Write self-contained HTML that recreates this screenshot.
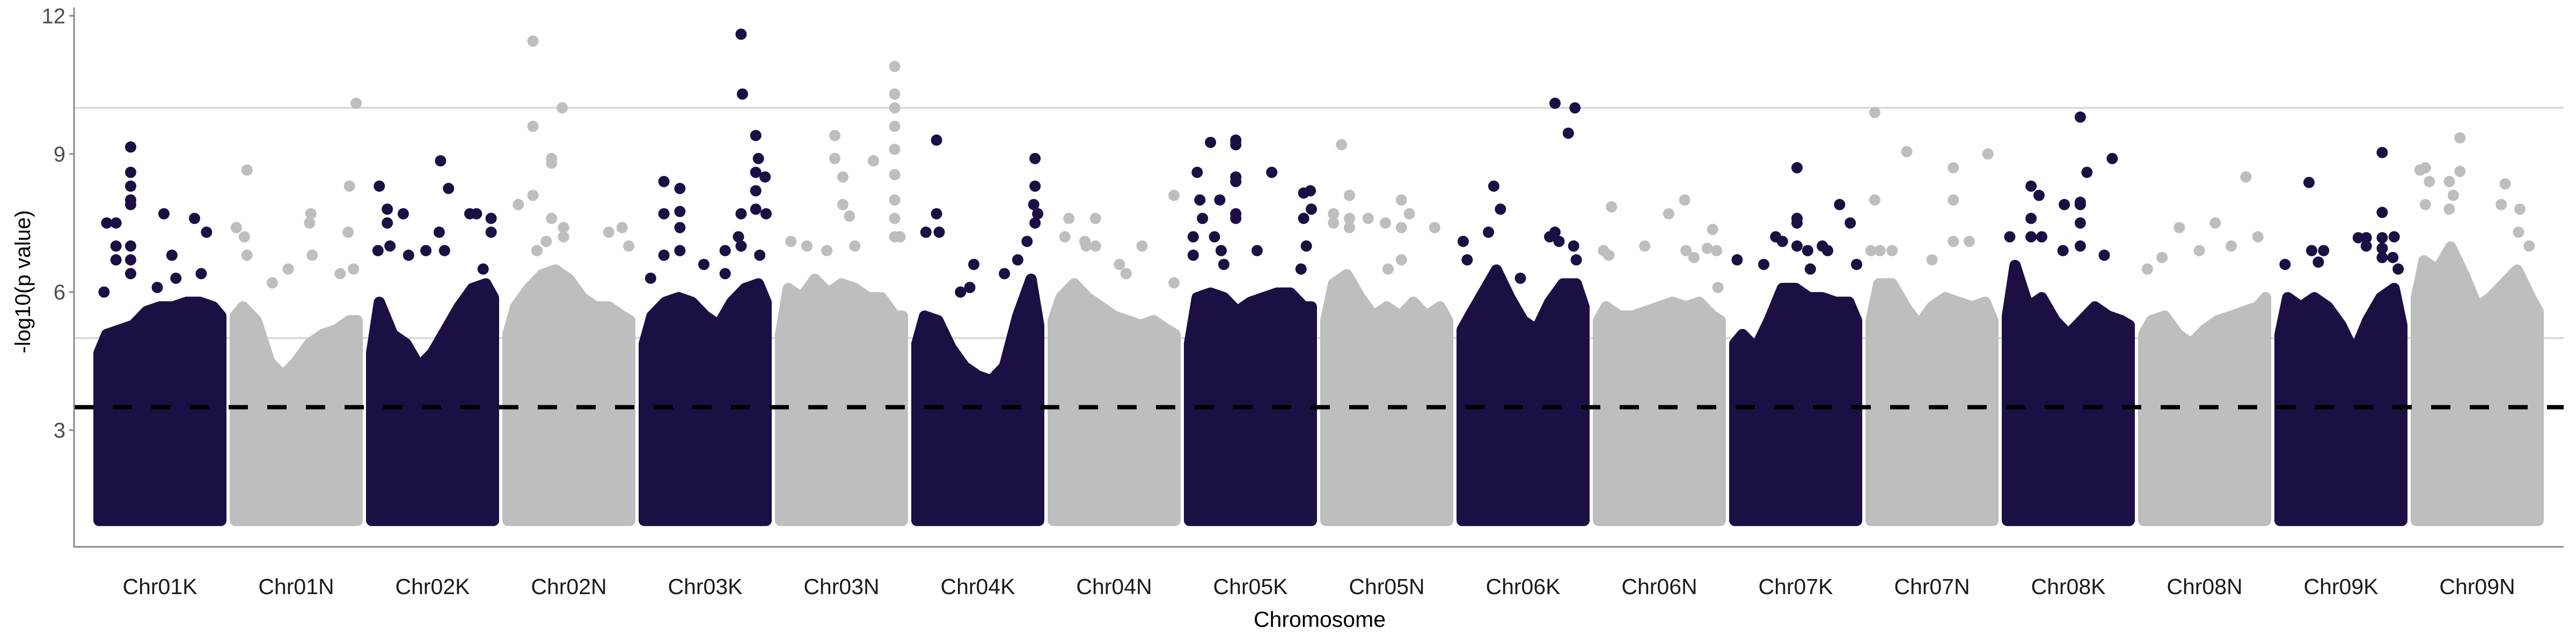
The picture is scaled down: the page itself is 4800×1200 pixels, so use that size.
<!DOCTYPE html>
<html><head><meta charset="utf-8"><style>
html,body{margin:0;padding:0;background:#fff;}
svg{display:block;font-family:"Liberation Sans",Arial,sans-serif;}
</style></head><body>
<svg id="chart" width="4800" height="1200" viewBox="0 0 4800 1200"></svg>
<script>
const chromosomes = ["Chr01K","Chr01N","Chr02K","Chr02N","Chr03K","Chr03N","Chr04K","Chr04N","Chr05K","Chr05N","Chr06K","Chr06N","Chr07K","Chr07N","Chr08K","Chr08N","Chr09K","Chr09N"];
const yTicks = [3,6,9,12];
const yTickLabels = ["3","6","9","12"];
const threshold = 3.5;
const refLines = [5,10];
const bodyBottom = 1.04;
// dense body upper envelope sampled at 11 evenly spaced positions in each chromosome
const bodyTops = [
 [4.8,5.2,5.3,5.4,5.7,5.8,5.8,5.9,5.9,5.8,5.6],
 [5.6,5.8,5.5,4.6,4.3,4.6,5.0,5.2,5.3,5.5,5.5],
 [4.8,5.9,5.2,5.0,4.5,4.8,5.3,5.8,6.2,6.3,6.0],
 [5.2,5.8,6.2,6.5,6.6,6.4,6.0,5.8,5.8,5.6,5.5],
 [5.0,5.6,5.9,6.0,5.9,5.6,5.4,5.9,6.2,6.3,5.9],
 [5.2,6.2,6.0,6.4,6.1,6.3,6.2,6.0,6.0,5.6,5.6],
 [5.0,5.6,5.5,4.9,4.5,4.3,4.2,4.5,5.6,6.4,5.4],
 [5.5,6.0,6.3,6.0,5.8,5.6,5.5,5.4,5.5,5.3,5.2],
 [5.0,6.0,6.1,6.0,5.7,5.9,6.0,6.1,6.1,5.8,5.8],
 [5.5,6.3,6.5,6.0,5.6,5.8,5.6,5.9,5.6,5.8,5.5],
 [5.3,5.6,6.1,6.6,6.0,5.5,5.3,5.9,6.3,6.3,5.8],
 [5.5,5.8,5.6,5.6,5.7,5.8,5.9,5.8,5.9,5.6,5.5],
 [5.0,5.2,4.9,5.5,6.2,6.2,6.0,6.0,5.9,5.9,5.5],
 [5.5,6.3,6.3,5.8,5.4,5.8,6.0,5.9,5.8,5.9,5.5],
 [5.6,6.7,5.8,6.0,5.5,5.2,5.5,5.8,5.6,5.5,5.4],
 [5.2,5.5,5.6,5.2,5.0,5.3,5.5,5.6,5.7,5.8,6.0],
 [5.2,6.0,5.8,6.0,5.8,5.4,4.8,5.5,6.0,6.2,5.4],
 [6.0,6.8,6.6,7.1,6.5,5.8,6.0,6.3,6.6,6.0,5.7]
];
// outlying SNPs: chromosome index, relative position within chromosome, -log10(p)
const peakChrom = [
 0,0,0,0,0,0,0,0,0,0,0,0,0,0,0,0,0,0,0,0,
 1,1,1,1,1,1,1,1,1,1,1,1,1,1,
 2,2,2,2,2,2,2,2,2,2,2,2,2,2,2,2,2,
 3,3,3,3,3,3,3,3,3,3,3,3,3,3,3,
 4,4,4,4,4,4,4,4,4,4,4,4,4,4,4,4,4,4,4,4,4,4,4,4,
 5,5,5,5,5,5,5,5,5,5,5,5,5,5,5,5,5,5,5,5,
 6,6,6,6,6,6,6,6,6,6,6,6,6,6,6,
 7,7,7,7,7,7,7,7,7,7,7,
 8,8,8,8,8,8,8,8,8,8,8,8,8,8,8,8,8,8,8,8,8,8,8,8,
 9,9,9,9,9,9,9,9,9,9,9,9,9,9,
 10,10,10,10,10,10,10,10,10,10,10,10,10,10,
 11,11,11,11,11,11,11,11,11,11,11,11,
 12,12,12,12,12,12,12,12,12,12,12,12,12,12,12,
 13,13,13,13,13,13,13,13,13,13,13,13,
 14,14,14,14,14,14,14,14,14,14,14,14,14,14,14,14,
 15,15,15,15,15,15,15,15,
 16,16,16,16,16,16,16,16,16,16,16,16,16,16,16,16,
 17,17,17,17,17,17,17,17,17,17,17,17,17,17
];
const peakPos = [
 0.08,0.10,0.17,0.17,0.17,0.28,0.28,0.28,0.28,0.28,0.28,0.28,0.28,0.53,0.59,0.76,0.85,0.81,0.48,0.62,
 0.13,0.05,0.11,0.13,0.44,0.60,0.61,0.62,0.95,0.90,0.89,0.93,0.32,0.83,
 0.10,0.16,0.16,0.28,0.32,0.09,0.18,0.56,0.62,0.55,0.59,0.78,0.83,0.94,0.94,0.45,0.88,
 0.23,0.23,0.45,0.37,0.37,0.23,0.12,0.37,0.46,0.46,0.26,0.33,0.80,0.90,0.95,
 0.77,0.78,0.88,0.90,0.88,0.95,0.88,0.88,0.96,0.19,0.31,0.19,0.31,0.31,0.31,0.19,0.09,0.49,0.65,0.65,0.77,0.75,0.77,0.91,
 0.45,0.45,0.51,0.51,0.56,0.74,0.90,0.90,0.90,0.90,0.90,0.90,0.90,0.90,0.90,0.94,0.24,0.39,0.12,0.60,
 0.19,0.19,0.11,0.21,0.47,0.37,0.44,0.93,0.93,0.92,0.95,0.93,0.87,0.70,0.80,
 0.16,0.36,0.13,0.29,0.36,0.28,0.54,0.59,0.71,0.95,0.95,
 0.20,0.39,0.39,0.39,0.39,0.39,0.39,0.10,0.12,0.14,0.27,0.66,0.07,0.23,0.28,0.07,0.30,0.90,0.95,0.90,0.96,0.92,0.55,0.88,
 0.16,0.22,0.10,0.22,0.10,0.22,0.36,0.49,0.61,0.67,0.61,0.86,0.51,0.61,
 0.74,0.89,0.84,0.28,0.33,0.24,0.05,0.70,0.74,0.77,0.08,0.88,0.90,0.48,
 0.14,0.57,0.69,0.90,0.76,0.93,0.86,0.70,0.94,0.39,0.08,0.12,
 0.51,0.51,0.51,0.51,0.83,0.91,0.35,0.40,0.70,0.59,0.74,0.06,0.26,0.97,0.61,
 0.07,0.31,0.66,0.92,0.66,0.07,0.66,0.78,0.04,0.11,0.20,0.50,
 0.59,0.83,0.64,0.22,0.28,0.59,0.59,0.47,0.22,0.59,0.59,0.06,0.22,0.30,0.46,0.77,
 0.07,0.18,0.31,0.46,0.58,0.81,0.90,0.70,
 0.26,0.81,0.81,0.81,0.63,0.69,0.90,0.69,0.81,0.81,0.89,0.28,0.37,0.08,0.33,0.93,
 0.37,0.37,0.11,0.07,0.14,0.29,0.71,0.32,0.68,0.82,0.11,0.29,0.81,0.89
];
const peakVal = [
 6.0,7.5,7.5,7.0,6.7,9.15,8.6,8.3,8.0,7.9,7.0,6.7,6.4,7.7,6.8,7.6,7.3,6.4,6.1,6.3,
 8.65,7.4,7.2,6.8,6.5,7.5,7.7,6.8,10.1,8.3,7.3,6.5,6.2,6.4,
 8.3,7.8,7.5,7.7,6.8,6.9,7.0,8.85,8.25,7.3,6.9,7.7,7.7,7.6,7.3,6.9,6.5,
 11.45,9.6,10.0,8.9,8.8,8.1,7.9,7.6,7.4,7.2,6.9,7.1,7.3,7.4,7.0,
 11.6,10.3,9.4,8.9,8.6,8.5,8.2,7.8,7.7,8.4,8.25,7.7,7.75,7.4,6.9,6.8,6.3,6.6,6.9,6.4,7.7,7.2,7.0,6.8,
 9.4,8.9,8.5,7.9,7.65,8.85,10.9,10.3,10.0,9.6,9.1,8.55,8.0,7.6,7.2,7.2,7.0,6.9,7.1,7.0,
 9.3,7.7,7.3,7.3,6.6,6.0,6.1,8.9,8.3,7.9,7.7,7.5,7.1,6.4,6.7,
 7.6,7.6,7.2,7.0,7.0,7.1,6.6,6.4,7.0,8.1,6.2,
 9.25,9.3,9.2,8.5,8.4,7.7,7.6,8.6,8.0,7.6,8.0,8.6,7.2,7.2,6.9,6.8,6.6,8.15,8.2,7.6,7.8,7.0,6.9,6.5,
 9.2,8.1,7.7,7.6,7.5,7.4,7.6,7.5,8.0,7.7,7.4,7.4,6.5,6.7,
 10.1,10.0,9.45,8.3,7.8,7.3,7.1,7.2,7.3,7.1,6.7,7.0,6.7,6.3,
 7.85,7.7,8.0,7.36,6.75,6.9,6.95,6.9,6.1,7.0,6.9,6.8,
 8.7,7.6,7.5,7.0,7.9,7.5,7.2,7.1,7.0,6.9,6.9,6.7,6.6,6.6,6.5,
 9.9,9.05,8.7,9.0,8.0,8.0,7.1,7.1,6.9,6.9,6.9,6.7,
 9.8,8.9,8.6,8.3,8.1,7.95,7.9,7.9,7.6,7.5,7.0,7.2,7.2,7.2,6.9,6.8,
 6.5,6.75,7.4,6.9,7.5,8.5,7.2,7.0,
 8.38,9.03,7.73,7.18,7.18,7.18,7.2,7.0,6.95,6.75,6.75,6.9,6.9,6.6,6.65,6.5,
 9.35,8.62,8.7,8.65,8.4,8.4,8.35,8.1,7.9,7.8,7.9,7.8,7.3,7.0
];

const NS = "http://www.w3.org/2000/svg";
const svg = document.getElementById("chart");
const plotLeft = 138, plotRight = 4777, axisY = 1019;
const firstStart = 174, chromStep = 254, chromWidth = 248, dotR = 10.5;
const colors = ["#1c0f44", "#bebebe"];
function yScale(v){ return 1059 - v * 85.8; }
function xStart(i){ return firstStart + i * chromStep; }
function xScale(i, f){
  const x = xStart(i) + f * chromWidth;
  return Math.min(Math.max(x, xStart(i) + dotR), xStart(i) + chromWidth - dotR);
}
function mk(tag, attrs){
  const el = document.createElementNS(NS, tag);
  for (const k in attrs) el.setAttribute(k, attrs[k]);
  return el;
}

// reference lines
refLines.forEach(function(v){
  const l = mk("line", {x1: plotLeft, x2: plotRight, y1: yScale(v), y2: yScale(v), stroke: "#d3d3d3", "stroke-width": 3});
  
  
  svg.appendChild(l);
});

// chromosome bodies and peaks
chromosomes.forEach(function(name, i){
  const g = mk("g", {fill: colors[i % 2]});
  
  
  const tops = bodyTops[i];
  const n = tops.length;
  let pts = [];
  pts.push(xScale(i, 0) + "," + yScale(bodyBottom));
  for (let k = 0; k < n; k++) {
    pts.push(xScale(i, k / (n - 1)) + "," + (yScale(tops[k]) + dotR));
  }
  pts.push(xScale(i, 1) + "," + yScale(bodyBottom));
  const body = mk("polygon", {points: pts.join(" "), stroke: colors[i % 2], "stroke-width": dotR * 2, "stroke-linejoin": "round"});
  
  
  g.appendChild(body);
  for (let p = 0; p < peakChrom.length; p++) {
    if (peakChrom[p] !== i) continue;
    const c = mk("circle", {cx: xScale(i, peakPos[p]), cy: yScale(peakVal[p]), r: dotR});
    
    
    g.appendChild(c);
  }
  svg.appendChild(g);
  const t = mk("text", {x: xStart(i) + chromWidth / 2, y: 1107, "text-anchor": "middle", "font-size": 41, fill: "#1a1a1a"});
  t.textContent = name;
  
  
  svg.appendChild(t);
});

// threshold line
const th = mk("line", {x1: plotLeft, x2: plotRight, y1: yScale(threshold), y2: yScale(threshold), stroke: "#000", "stroke-width": 8, "stroke-dasharray": "36 36"});


svg.appendChild(th);

// axes
const ya = mk("line", {x1: plotLeft, x2: plotLeft, y1: 14, y2: axisY + 1.5, stroke: "#8a8a8a", "stroke-width": 3});


svg.appendChild(ya);
const xa = mk("line", {x1: plotLeft - 1.5, x2: plotRight, y1: axisY, y2: axisY, stroke: "#8a8a8a", "stroke-width": 3});


svg.appendChild(xa);

yTicks.forEach(function(v, k){
  const tk = mk("line", {x1: plotLeft - 9, x2: plotLeft, y1: yScale(v), y2: yScale(v), stroke: "#8a8a8a", "stroke-width": 3});
  
  
  svg.appendChild(tk);
  const tl = mk("text", {x: plotLeft - 16, y: yScale(v) + 14, "text-anchor": "end", "font-size": 40, fill: "#4d4d4d"});
  tl.textContent = yTickLabels[k];
  
  
  svg.appendChild(tl);
});

const yt = mk("text", {x: 0, y: 0, transform: "translate(56,525) rotate(-90)", "text-anchor": "middle", "font-size": 40, fill: "#000"});
yt.textContent = "-log10(p value)";


svg.appendChild(yt);

const xt = mk("text", {x: 2459, y: 1168, "text-anchor": "middle", "font-size": 41, fill: "#000"});
xt.textContent = "Chromosome";


svg.appendChild(xt);
</script>
</body></html>
